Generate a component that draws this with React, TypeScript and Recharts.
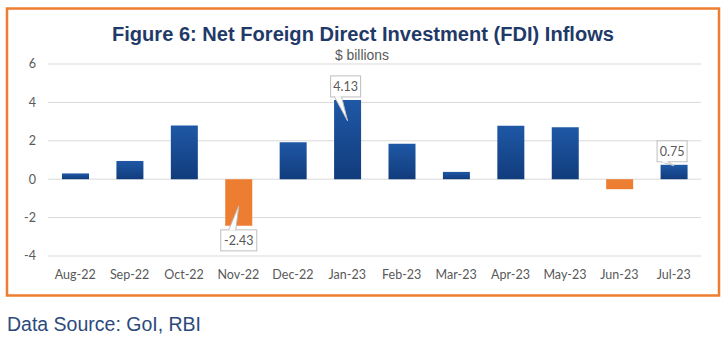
import React from 'react';
import { BarChart, Bar, XAxis, YAxis, CartesianGrid, Cell, LabelList } from 'recharts';

const months = ['Aug-22', 'Sep-22', 'Oct-22', 'Nov-22', 'Dec-22', 'Jan-23', 'Feb-23', 'Mar-23', 'Apr-23', 'May-23', 'Jun-23', 'Jul-23'];
const fdiValues = [0.3, 0.95, 2.8, -2.43, 1.93, 4.13, 1.85, 0.38, 2.78, 2.7, -0.52, 0.75];
const calloutMonths = ['Nov-22', 'Jan-23', 'Jul-23'];
const yTicks = [-4, -2, 0, 2, 4, 6];

const data = months.map((m, i) => ({ month: m, value: fdiValues[i], callout: calloutMonths.includes(m) }));

const Callout = (props: any) => {
  const { x, y, width, height, value, index } = props;
  if (!data[index] || !data[index].callout) return null;
  const top = Math.min(y, y + height);
  const bottom = Math.max(y, y + height);
  const h = bottom - top;
  const cx = x + width / 2;
  const bw = value < 0 ? 36 : 30;
  const bh = 21;
  const depth = h > 40 ? 21 : 1;
  const text = value.toFixed(2);
  if (value >= 0) {
    const bx = cx - 2 - bw / 2;
    const by = top - 3 - bh;
    const pts = `${bx + 4},${by + bh} ${cx},${top + depth} ${bx + 11},${by + bh}`;
    return (
      <g>
        <rect x={bx} y={by} width={bw} height={bh} fill="#ffffff" stroke="#bfbfbf" strokeWidth={1} />
        <polygon points={pts} fill="#ffffff" stroke="#bfbfbf" strokeWidth={1} />
        <line x1={bx + 4.5} y1={by + bh} x2={bx + 10.5} y2={by + bh} stroke="#ffffff" strokeWidth={1.5} />
        <text x={bx + bw / 2} y={by + bh / 2 + 4.5} textAnchor="middle" fontFamily="Lato, sans-serif" fontSize={12.5} fill="#595959">{text}</text>
      </g>
    );
  }
  const bx = cx - bw / 2;
  const by = bottom + 4;
  const pts = `${bx + 8},${by} ${cx},${bottom - 20} ${bx + 15},${by}`;
  return (
    <g>
      <rect x={bx} y={by} width={bw} height={bh} fill="#ffffff" stroke="#bfbfbf" strokeWidth={1} />
      <polygon points={pts} fill="#ffffff" stroke="#bfbfbf" strokeWidth={1} />
      <line x1={bx + 8.5} y1={by} x2={bx + 14.5} y2={by} stroke="#ffffff" strokeWidth={1.5} />
      <text x={bx + bw / 2} y={by + bh / 2 + 4.5} textAnchor="middle" fontFamily="Lato, sans-serif" fontSize={12.5} fill="#595959">{text}</text>
    </g>
  );
};

export default function App() {
  return (
    <div style={{ position: 'absolute', left: 0, top: 0, width: 728, height: 342, background: '#ffffff' }}>
      <svg width={728} height={342} style={{ position: 'absolute', left: 0, top: 0 }}>
        <rect x={7} y={8.5} width={712} height={287} fill="none" stroke="#ed7d31" strokeWidth={2.5} />
        <text x={112} y={41} textLength={502} lengthAdjust="spacingAndGlyphs" fontFamily="'Liberation Sans', Arial, sans-serif" fontWeight="bold" fontSize={19.5} fill="#1f3a68">Figure 6: Net Foreign Direct Investment (FDI) Inflows</text>
        <text x={362} y={60} textAnchor="middle" textLength={54} lengthAdjust="spacingAndGlyphs" fontFamily="'Liberation Sans', Arial, sans-serif" fontSize={14} fill="#595959">$ billions</text>
        <text x={7} y={331} textLength={194} lengthAdjust="spacingAndGlyphs" fontFamily="'Liberation Sans', Arial, sans-serif" fontSize={19.5} fill="#2c4a7c">Data Source: GoI, RBI</text>
      </svg>
      <div style={{ position: 'absolute', left: 0, top: 0 }}>
        <BarChart width={728} height={300} data={data} margin={{ top: 64, right: 27, bottom: 14, left: 0 }}>
          <defs>
            <linearGradient id="blueGrad" x1="0" y1="0" x2="0" y2="1">
              <stop offset="0%" stopColor="#1f58a6" />
              <stop offset="100%" stopColor="#113c7c" />
            </linearGradient>
          </defs>
          <CartesianGrid vertical={false} stroke="#d9d9d9" strokeWidth={1} />
          <XAxis dataKey="month" axisLine={false} tickLine={false} height={30} interval={0}
            tick={{ fontFamily: 'Lato, sans-serif', fontSize: 12.5, fill: '#595959' }} tickMargin={8} />
          <YAxis domain={[-4, 6]} ticks={yTicks} width={48} axisLine={false} tickLine={false} tickSize={0} tickMargin={12}
            tick={{ fontFamily: 'Lato, sans-serif', fontSize: 12.5, fill: '#595959' }} />
          <Bar dataKey="value" barSize={27} isAnimationActive={false}>
            {data.map((d, i) => (
              <Cell key={i} fill={d.value < 0 ? '#ed7d31' : 'url(#blueGrad)'} />
            ))}
            <LabelList dataKey="value" content={Callout} />
          </Bar>
        </BarChart>
      </div>
    </div>
  );
}
